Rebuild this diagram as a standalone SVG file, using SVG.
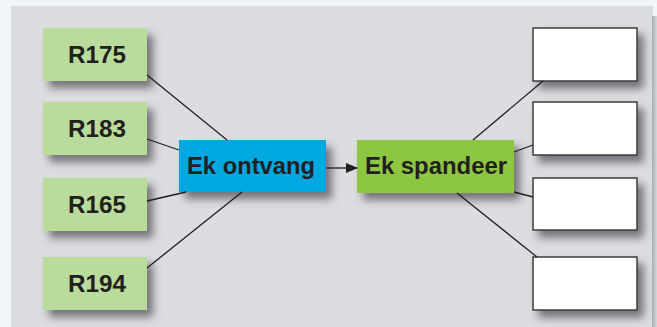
<svg xmlns="http://www.w3.org/2000/svg" width="657" height="327" viewBox="0 0 657 327">
<defs>
<filter id="sh" x="-20%" y="-30%" width="150%" height="170%">
<feDropShadow dx="6" dy="7" stdDeviation="4" flood-color="#44464c" flood-opacity="0.7"/>
</filter>
<linearGradient id="edge" x1="0" y1="0" x2="1" y2="0">
<stop offset="0" stop-color="#a9adb2"/>
<stop offset="1" stop-color="#d4d7da"/>
</linearGradient>
<marker id="arr" markerWidth="12" markerHeight="10" refX="11" refY="5" orient="auto" markerUnits="userSpaceOnUse">
<path d="M0,0 L12,5 L0,10 Z" fill="#231f20"/>
</marker>
</defs>
<style>
.lg{fill:#b9dc9c}
.bl{fill:#00a8e2}
.gr{fill:#8dc63f}
.wh{fill:#ffffff;stroke:#3c3c3e;stroke-width:1.5}
.t{font-family:"Liberation Sans",Arial,sans-serif;font-weight:bold;fill:#231f20;text-anchor:middle}
.s{font-size:24px}
.m{font-size:23px}
.c line{stroke:#231f20;stroke-width:1.3}
</style>
<rect x="0" y="0" width="657" height="327" fill="#f1f6f8"/>
<rect x="11" y="6" width="642" height="321" fill="#dcdde0"/>
<rect x="652" y="16" width="5" height="311" fill="url(#edge)"/>

<g id="r175"><rect class="lg" x="43" y="28" width="104" height="53" filter="url(#sh)"/><text class="t s" x="97" y="63" textLength="58" lengthAdjust="spacingAndGlyphs">R175</text></g>
<g id="r183"><rect class="lg" x="43" y="102" width="104" height="53" filter="url(#sh)"/><text class="t s" x="97" y="137" textLength="58" lengthAdjust="spacingAndGlyphs">R183</text></g>
<g id="r165"><rect class="lg" x="43" y="178" width="104" height="53" filter="url(#sh)"/><text class="t s" x="97" y="213" textLength="58" lengthAdjust="spacingAndGlyphs">R165</text></g>
<g id="r194"><rect class="lg" x="43" y="257" width="104" height="53" filter="url(#sh)"/><text class="t s" x="97" y="292" textLength="58" lengthAdjust="spacingAndGlyphs">R194</text></g>

<g id="ontvang"><rect class="bl" x="179" y="140" width="147" height="52" filter="url(#sh)"/><text class="t m" x="251" y="174" textLength="128" lengthAdjust="spacingAndGlyphs">Ek ontvang</text></g>
<g id="spandeer"><rect class="gr" x="357" y="140" width="157" height="53" filter="url(#sh)"/><text class="t m" x="436" y="174" textLength="142" lengthAdjust="spacingAndGlyphs">Ek spandeer</text></g>

<g id="w1"><rect class="wh" x="533" y="28" width="104" height="53" filter="url(#sh)"/></g>
<g id="w2"><rect class="wh" x="533" y="102" width="104" height="53" filter="url(#sh)"/></g>
<g id="w3"><rect class="wh" x="533" y="178" width="104" height="52" filter="url(#sh)"/></g>
<g id="w4"><rect class="wh" x="533" y="257" width="104" height="53" filter="url(#sh)"/></g>

<g id="connectors" class="c">
<line x1="147" y1="75" x2="227" y2="140"/>
<line x1="147" y1="139" x2="179" y2="150"/>
<line x1="147" y1="201" x2="186" y2="192"/>
<line x1="147" y1="268" x2="242" y2="192"/>
<line x1="326" y1="168" x2="357" y2="168" marker-end="url(#arr)"/>
<line x1="473" y1="140" x2="543" y2="81"/>
<line x1="514" y1="152" x2="533" y2="145"/>
<line x1="514" y1="192" x2="533" y2="197"/>
<line x1="457" y1="193" x2="537" y2="257"/>
</g>
</svg>
